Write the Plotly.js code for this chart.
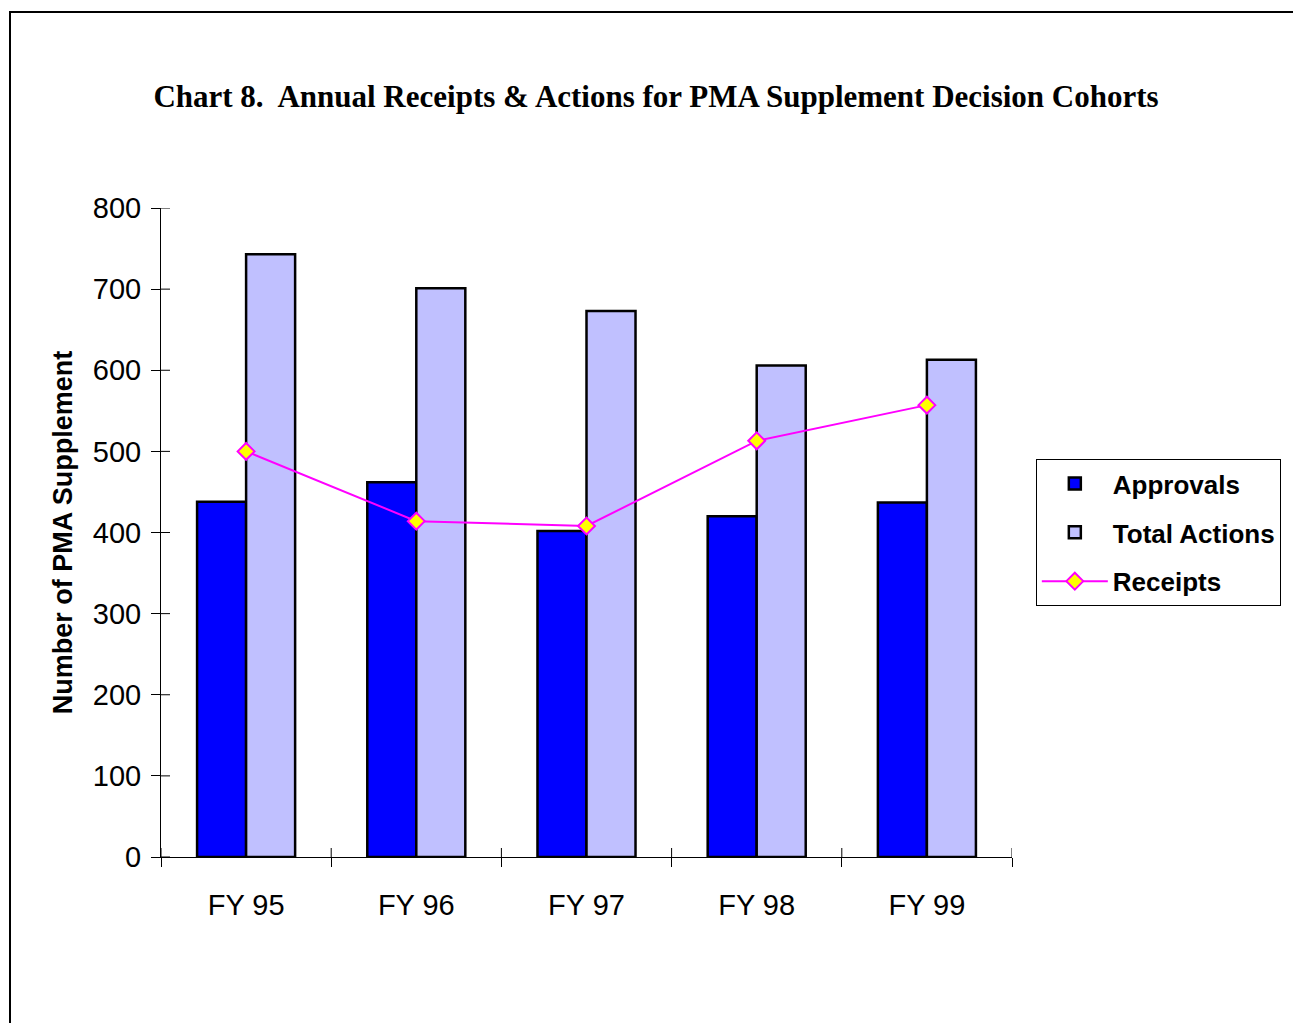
<!DOCTYPE html>
<html>
<head>
<meta charset="utf-8">
<script src="https://cdn.plot.ly/plotly-3.0.1.min.js"></script>
<style>
  html, body { margin: 0; padding: 0; background: #fff; overflow: hidden; }
  #wrap { position: relative; width: 1293px; height: 1023px; }
  #chart { position: absolute; left: 0; top: 0; width: 1293px; height: 1023px; }
  #frame { position: absolute; left: 9px; top: 11px; width: 1400px; height: 1100px;
           border-left: 2px solid #000; border-top: 2px solid #000; pointer-events: none; }
</style>
</head>
<body>
<div id="wrap">
  <div id="chart"></div>
  <div id="frame"></div>
</div>
<script>
const categories = ["FY 95", "FY 96", "FY 97", "FY 98", "FY 99"];
const approvals = [438, 462, 402, 420, 437];
const totalActions = [743, 701, 673, 606, 613];
const receipts = [500, 414, 408, 513, 557];
const yTickVals = [0, 100, 200, 300, 400, 500, 600, 700, 800];
const boundaryTicks = [-0.5, 0.5, 1.5, 2.5, 3.5, 4.5];

const traces = [
  {
    type: "bar", name: "Approvals", x: categories, y: approvals, legendgroup: "g1",
    marker: { color: "#0000FF", line: { color: "#000000", width: 2.5 } },
    hoverinfo: "skip"
  },
  {
    type: "bar", name: "Total Actions", x: categories, y: totalActions, legendgroup: "g2",
    marker: { color: "#C0C0FF", line: { color: "#000000", width: 2.5 } },
    hoverinfo: "skip"
  },
  {
    type: "scatter", mode: "lines+markers", name: "Receipts", x: categories, y: receipts, legendgroup: "g3",
    line: { color: "#FF00FF", width: 2 },
    marker: { symbol: "diamond", size: 13, color: "#FFFF00", line: { color: "#FF00FF", width: 2 } },
    hoverinfo: "skip"
  }
];

// inside halves of the crossing tick marks
const shapes = [];
boundaryTicks.forEach(b => shapes.push({
  type: "line", xref: "x", yref: "y", ysizemode: "pixel", yanchor: 0,
  x0: b, x1: b, y0: 0, y1: 9, line: { color: "#000", width: 1 }
}));
yTickVals.forEach(v => shapes.push({
  type: "line", xref: "x", yref: "y", xsizemode: "pixel", xanchor: -0.5,
  x0: 0, x1: 9, y0: v, y1: v, line: { color: "#000", width: 1 }
}));

const layout = {
  width: 1293, height: 1023,
  margin: { l: 161, r: 281, t: 208, b: 166 },
  paper_bgcolor: "rgba(0,0,0,0)",
  plot_bgcolor: "rgba(0,0,0,0)",
  showlegend: true,
  barmode: "group",
  bargap: 0.424,
  bargroupgap: 0,
  shapes: shapes,
  title: {
    text: "<b>Chart 8.  Annual Receipts &amp; Actions for PMA Supplement Decision Cohorts</b>",
    font: { family: "Liberation Serif, Times New Roman, serif", size: 31, color: "#000" },
    x: 656 / 1293, xanchor: "center", xref: "container",
    y: 1 - 96 / 1023, yanchor: "middle", yref: "container"
  },
  xaxis: {
    type: "category",
    showgrid: false, zeroline: false,
    showline: true, linecolor: "#000", linewidth: 1,
    ticks: "outside", ticklen: 9, tickcolor: "#000", tickwidth: 1,
    tickson: "boundaries",
    tickfont: { family: "Liberation Sans, Arial, sans-serif", size: 29, color: "#000" },
    ticklabelstandoff: 22,
    range: [-0.5, 4.5]
  },
  yaxis: {
    range: [0, 800],
    tickmode: "array", tickvals: yTickVals,
    showgrid: false, zeroline: false,
    showline: true, linecolor: "#000", linewidth: 1,
    ticks: "outside", ticklen: 9, tickcolor: "#000", tickwidth: 1,
    tickfont: { family: "Liberation Sans, Arial, sans-serif", size: 29, color: "#000" },
    ticklabelstandoff: 4,
    title: {
      text: "<b>Number of PMA Supplement</b>",
      font: { family: "Liberation Sans, Arial, sans-serif", size: 27, color: "#000" },
      standoff: 12
    }
  },
  legend: {
    x: 1.028, xanchor: "left", y: 0.613, yanchor: "top",
    bgcolor: "#fff", bordercolor: "#000", borderwidth: 1,
    font: { family: "Liberation Sans, Arial, sans-serif", size: 26, color: "#000", weight: "bold" },
    traceorder: "grouped", itemwidth: 66, tracegroupgap: 12
  }
};

Plotly.newPlot("chart", traces, layout, { staticPlot: true, displayModeBar: false });
</script>
</body>
</html>
